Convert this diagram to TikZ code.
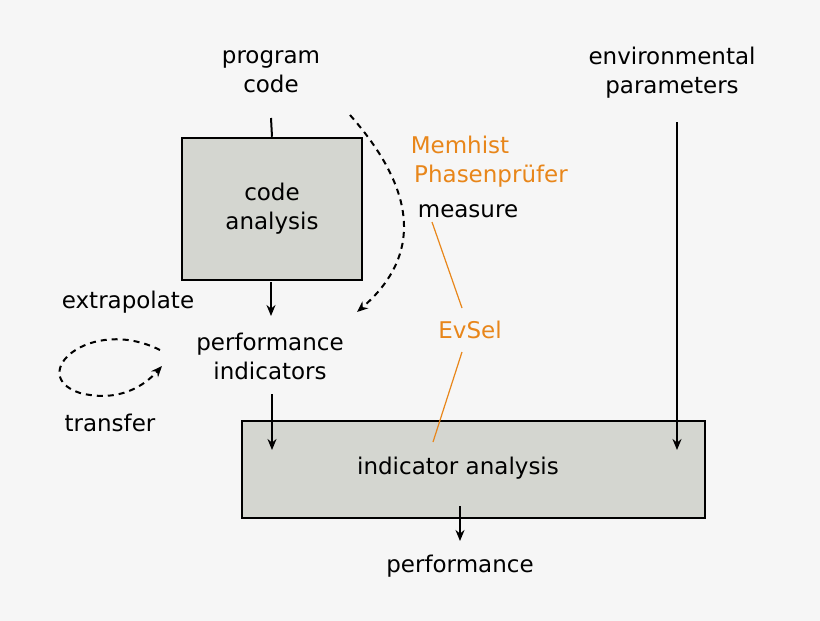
\documentclass[tikz,border=0pt]{standalone}
\usepackage{fontspec}
\setmainfont{DejaVu Sans}
\usetikzlibrary{arrows.meta}
\definecolor{bg}{HTML}{F6F6F6}
\definecolor{boxfill}{HTML}{D4D6D0}
\definecolor{org}{HTML}{E8861A}
\begin{document}
\begin{tikzpicture}[x=1pt,y=-1pt,
  lbl/.style={font=\fontsize{23}{29}\selectfont, align=center, inner sep=0pt},
  olbl/.style={lbl, text=org},
  box/.style={draw=black, line width=2.5pt, fill=boxfill},
  arr/.style={line width=2pt, -{Stealth[length=11pt,width=9pt]}},
  darr/.style={arr, dash pattern=on 6pt off 5pt},
  oline/.style={draw=org, line width=1.2pt}]
\fill[bg] (0,0) rectangle (820,621);
\useasboundingbox (0,0) rectangle (820,621);
\node[box, minimum width=180pt, minimum height=142pt] (ca) at (272,209) {};
\node[lbl] (catext) at (272,209) {code\\analysis};
\node[box, minimum width=463pt, minimum height=97pt] (ia) at (473.5,469.5) {};
\node[lbl] (iatext) at (458,468) {indicator analysis};
\node[lbl] (pc) at (271,72) {program\\code};
\node[lbl] (ep) at (672,73) {environmental\\parameters};
\node[lbl] (pi) at (270,356) {performance\\indicators};
\node[lbl] (ex) at (128,302) {extrapolate};
\node[lbl] (tr) at (110,423) {transfer};
\node[olbl] (mh) at (460,145) {Memhist};
\node[olbl] (pp) at (491,176) {Phasenprüfer};
\node[lbl] (me) at (468,211) {measure};
\node[olbl] (ev) at (470,330) {EvSel};
\node[lbl] (pf) at (460,566) {performance};
\coordinate (c1) at (271,118);
\coordinate (c2) at (271,282);
\coordinate (c3) at (271,316);
\coordinate (c4) at (272,394);
\coordinate (c5) at (272,450);
\coordinate (c6) at (677,122);
\coordinate (c7) at (677,450);
\coordinate (c8) at (460,506);
\coordinate (c9) at (460,541);
\coordinate (d1) at (350,115);
\coordinate (d2) at (357,312);
\coordinate (l1) at (160,350);
\coordinate (l2) at (162,366);
\coordinate (o1) at (432,222);
\coordinate (o2) at (462,308);
\coordinate (o3) at (462,352);
\coordinate (o4) at (433,442);
\draw[line width=2pt] (c1) -- (ca.north);
\draw[arr] (c2) -- (c3);
\draw[arr] (c4) -- (c5);
\draw[arr] (c6) -- (c7);
\draw[arr] (c8) -- (c9);
\draw[darr] (d1) .. controls (425,200) and (415,262) .. (d2);
\draw[darr] (l1) .. controls (90,315) and (25,375) .. (80,393) .. controls (120,403) and (145,385) .. (l2);
\draw[oline] (o1) -- (o2);
\draw[oline] (o3) -- (o4);
\end{tikzpicture}
\end{document}
